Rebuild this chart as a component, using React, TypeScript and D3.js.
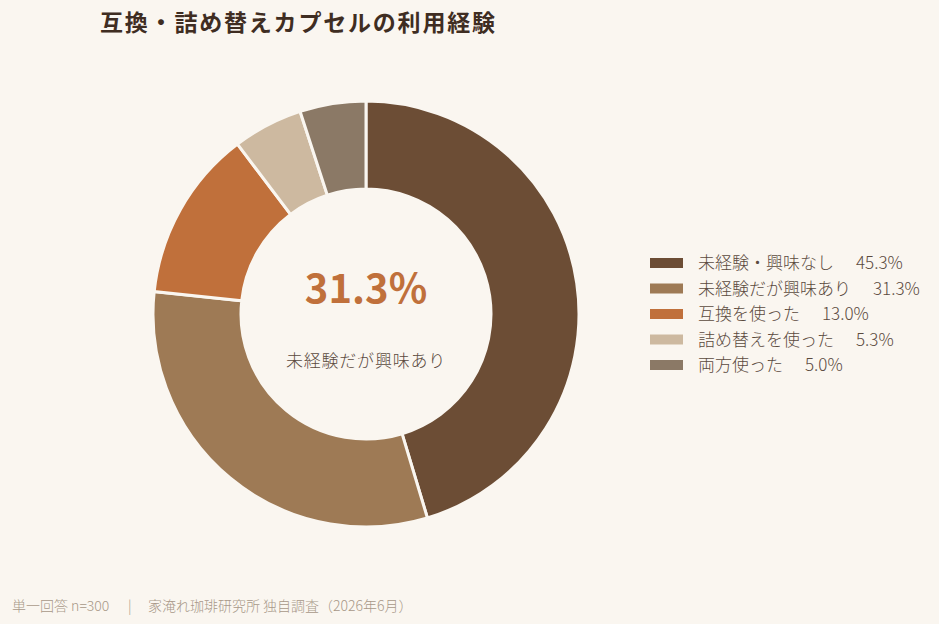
import React, { useEffect, useRef } from 'react';
import * as d3 from 'd3';

const categories = ['未経験・興味なし', '未経験だが興味あり', '互換を使った', '詰め替えを使った', '両方使った'];
const values = [45.3, 31.3, 13.0, 5.3, 5.0];
const colors = ['#6c4d35', '#9e7a55', '#c0703b', '#cdb9a0', '#8b7966'];
const highlightIndex = 1;

const WIDTH = 939;
const HEIGHT = 624;
const BG = '#faf6f0';
const FONT = '"Noto Sans CJK JP", "Noto Sans", sans-serif';

const App = () => {
  const svgRef = useRef<SVGSVGElement>(null);

  useEffect(() => {
    const svg = d3.select(svgRef.current);
    svg.selectAll('*').remove();

    svg.append('rect').attr('width', WIDTH).attr('height', HEIGHT).attr('fill', BG);

    // title
    svg.append('text')
      .attr('x', 100)
      .attr('y', 31)
      .attr('font-family', FONT)
      .attr('font-size', 23)
      .attr('font-weight', 700)
      .attr('letter-spacing', 1.8)
      .attr('fill', '#3f2d22')
      .text('互換・詰め替えカプセルの利用経験');

    const cx = 366;
    const cy = 314;
    const outer = 213;
    const inner = 125;

    const pie = d3.pie<number>().sort(null).value(d => d);
    const arc = d3.arc<d3.PieArcDatum<number>>().innerRadius(inner).outerRadius(outer);

    const g = svg.append('g').attr('transform', `translate(${cx},${cy})`);
    g.selectAll('path')
      .data(pie(values))
      .enter()
      .append('path')
      .attr('d', arc)
      .attr('fill', (d, i) => colors[i])
      .attr('stroke', BG)
      .attr('stroke-width', 3);

    // center label
    g.append('text')
      .attr('x', 0)
      .attr('y', -11)
      .attr('text-anchor', 'middle')
      .attr('font-family', FONT)
      .attr('font-size', 40)
      .attr('font-weight', 700)
      .attr('fill', colors[2])
      .text(`${values[highlightIndex].toFixed(1)}%`);

    g.append('text')
      .attr('x', 0)
      .attr('y', 53)
      .attr('text-anchor', 'middle')
      .attr('font-family', FONT)
      .attr('font-size', 17)
      .attr('font-weight', 300)
      .attr('letter-spacing', 0.8)
      .attr('fill', '#5a4a3e')
      .text(categories[highlightIndex]);

    // legend
    const legend = svg.append('g').attr('transform', 'translate(650,263)');
    categories.forEach((c, i) => {
      const row = legend.append('g').attr('transform', `translate(0,${i * 25.5})`);
      row.append('rect')
        .attr('x', 0)
        .attr('y', -5)
        .attr('width', 33)
        .attr('height', 10)
        .attr('fill', colors[i]);
      const t = row.append('text')
        .attr('x', 48)
        .attr('y', 6)
        .attr('font-family', FONT)
        .attr('font-size', 17)
        .attr('font-weight', 300)
        .attr('fill', '#5a4a3e');
      t.append('tspan').text(c);
      t.append('tspan').attr('dx', 22).text(`${values[i].toFixed(1)}%`);
    });

    // footer
    const foot = svg.append('text')
      .attr('y', 611)
      .attr('font-family', FONT)
      .attr('font-size', 14)
      .attr('font-weight', 300)
      .attr('fill', '#a89888');
    foot.append('tspan').attr('x', 12).text('単一回答 n=300');
    foot.append('tspan').attr('x', 128).text('|');
    foot.append('tspan').attr('x', 148).text('家淹れ珈琲研究所 独自調査（2026年6月）');
  }, []);

  return <svg ref={svgRef} width={WIDTH} height={HEIGHT} style={{ display: 'block', position: 'absolute', left: 0, top: 0 }} />;
};

export default App;
